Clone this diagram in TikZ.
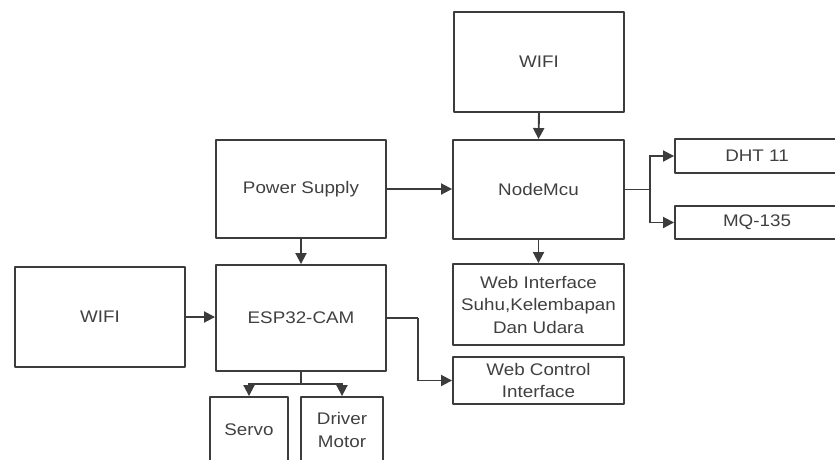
\documentclass[tikz,border=0pt]{standalone}
\usepackage{fontspec}
\setmainfont{Liberation Sans}[FakeStretch=1.12]
\usetikzlibrary{arrows.meta}
\definecolor{ink}{HTML}{3C3C3C}
\definecolor{txt}{HTML}{404040}
\begin{document}
\begin{tikzpicture}[x=1pt,y=-1pt,
  blk/.style={draw=ink,line width=1.9pt,line join=round,rectangle,inner sep=0pt,
    align=center,text=txt,font=\fontsize{16.8}{22.5}\selectfont},
  conn/.style={draw=ink,line width=1.9pt},
  arr/.style={conn,-{Triangle[length=11pt,width=11pt]}}]
\useasboundingbox (0,0) rectangle (835,459);
\clip (0,0) rectangle (835,459);
\node[blk,minimum width=170pt,minimum height=100pt] (wifitop) at (539,62) {WIFI};
\node[blk,minimum width=171pt,minimum height=99pt] (nodemcu) at (538.5,189.5) {NodeMcu};
\node[blk,minimum width=170pt,minimum height=98pt] (power) at (301,189) {Power Supply};
\node[blk,minimum width=170pt,minimum height=106pt] (esp) at (301,318) {ESP32-CAM};
\node[blk,minimum width=170pt,minimum height=100pt] (wifileft) at (100,317) {WIFI};
\node[blk,minimum width=171pt,minimum height=81pt] (webif) at (538.5,304.5) {Web Interface\\Suhu,Kelembapan\\Dan Udara};
\node[blk,minimum width=171pt,minimum height=47pt] (webctl) at (538.5,380.5) {Web Control\\Interface};
\node[blk,minimum width=164pt,minimum height=34pt] (dht) at (757,156) {DHT 11};
\node[blk,minimum width=164pt,minimum height=33pt] (mq) at (757,222.5) {MQ-135};
\node[blk,minimum width=78pt,minimum height=66pt] (servo) at (249,430) {Servo};
\node[blk,minimum width=82pt,minimum height=66pt] (driver) at (342,430) {Driver\\Motor};
\coordinate (nsplit) at (650,189.5);
\coordinate (esplit) at (301,384);
\coordinate (ebend) at (418,318);
\draw[arr] (wifitop.south) -- (nodemcu.north);
\draw[arr] (power.east) -- (power.east -| nodemcu.west);
\draw[arr] (nodemcu.south) -- (webif.north);
\draw[conn] (nodemcu.east) -- (nsplit);
\draw[arr] (nsplit) |- (dht.west);
\draw[arr] (nsplit) |- (mq.west);
\draw[arr] (power.south) -- (esp.north);
\draw[arr] (wifileft.east) -- (wifileft.east -| esp.west);
\draw[conn] (esp.east) -- (ebend);
\draw[arr] (ebend) |- (webctl.west);
\draw[conn] (esp.south) -- (esplit);
\draw[arr] (esplit) -| (servo.north);
\draw[arr] (esplit) -| (driver.north);
\end{tikzpicture}
\end{document}
